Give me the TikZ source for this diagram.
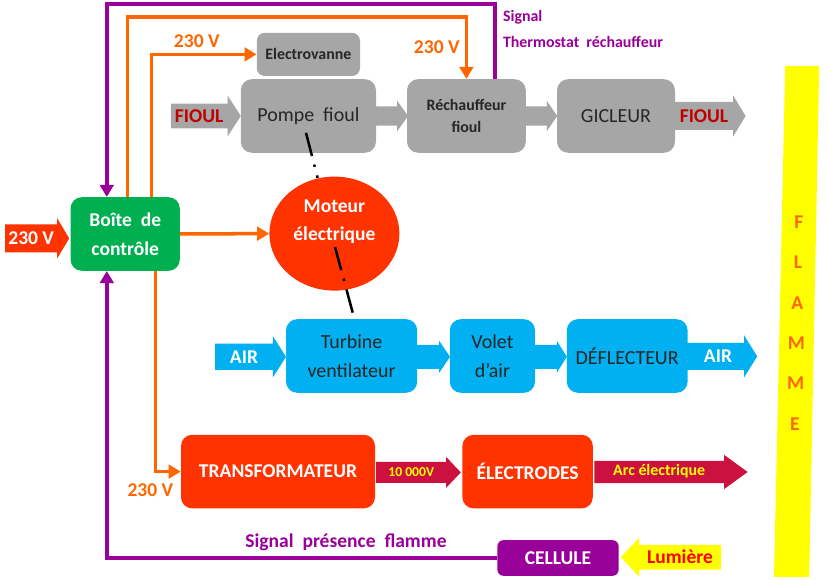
\documentclass[tikz,border=0pt]{standalone}
\usepackage{fontspec}
\setmainfont{Carlito}
\usetikzlibrary{arrows.meta,shapes.geometric}

\definecolor{boxgray}{HTML}{A6A6A6}
\definecolor{txtgray}{HTML}{262626}
\definecolor{fioulred}{HTML}{C00000}
\definecolor{wireorange}{HTML}{FF6600}
\definecolor{sigpurple}{HTML}{990099}
\definecolor{ctrlgreen}{HTML}{00B050}
\definecolor{hotred}{HTML}{FF3300}
\definecolor{aircyan}{HTML}{00B0F0}
\definecolor{hvred}{HTML}{CC1040}
\definecolor{flameyellow}{HTML}{FFFF00}
\definecolor{flameorange}{HTML}{FF6600}

\newcommand{\txtbig}{\fontsize{14.2}{20.5}\selectfont}
\newcommand{\txtbold}{\fontsize{13.9}{20.3}\selectfont\bfseries}
\newcommand{\txtsmall}{\fontsize{11.3}{15.4}\selectfont\bfseries}
\newcommand{\txttiny}{\fontsize{9.7}{12}\selectfont\bfseries}

% fat arrow: colour, tail x, head base x, tip x, y, shaft half width, head half width
\newcommand{\fatarrow}[7]{%
  \fill[#1] (#2,#5-#6) -- (#3,#5-#6) -- (#3,#5-#7) -- (#4,#5) -- (#3,#5+#7) -- (#3,#5+#6) -- (#2,#5+#6) -- cycle;}

\tikzset{
  box/.style={rectangle, rounded corners=0.28cm, inner sep=0pt, align=center, minimum height=1.84cm},
  fuelbox/.style={box, fill=boxgray, text=txtgray, font=\txtbig},
  airbox/.style={box, fill=aircyan, text=txtgray, font=\txtbig},
  hotbox/.style={box, fill=hotred, text=white, font=\txtbold},
  wire/.style={draw=wireorange, line width=2.5pt, -{Triangle[length=0.3cm,width=0.34cm]}},
  sig/.style={draw=sigpurple, line width=2.8pt, -{Triangle[length=0.3cm,width=0.34cm]}},
  shaft/.style={line width=1.8pt, dash pattern=on 0.6cm off 0.22cm on 0.06cm off 0.22cm},
  onarrow/.style={inner sep=0pt, font=\txtbold}
}

\begin{document}
\begin{tikzpicture}
\useasboundingbox (0,0) rectangle (20.7,14.5);

% flamme
\fill[flameyellow] (19.63,12.85) -- (20.48,12.85) -- (20.23,0.075) -- (19.35,0.075) -- cycle;
\foreach \l/\y [count=\i] in {F/8.95,L/7.95,A/6.93,M/5.92,M/4.92,E/3.90}
  \node[text=flameorange, font=\txtbold] (flame\i) at ({19.79+0.0204*\y},\y) {\l};

% circuit fioul
\node[fuelbox, minimum width=2.58cm, minimum height=1.08cm, rounded corners=0.2cm, font=\txtsmall] (elv) at (7.71,13.14) {Electrovanne};
\node[fuelbox, minimum width=3.38cm] (pompe) at (7.71,11.60) {Pompe~~fioul};
\node[fuelbox, minimum width=2.97cm, font=\txtsmall] (rech) at (11.66,11.60) {Réchauffeur\\fioul};
\node[fuelbox, minimum width=2.95cm] (gicl) at (15.40,11.60) {GICLEUR};
\fatarrow{boxgray}{4.27}{5.69}{6.02}{11.60}{0.31}{0.51}
\fatarrow{boxgray}{9.40}{9.93}{10.20}{11.60}{0.24}{0.38}
\fatarrow{boxgray}{13.14}{13.67}{13.93}{11.60}{0.24}{0.38}
\fatarrow{boxgray}{16.88}{18.33}{18.64}{11.60}{0.35}{0.51}
\node[onarrow, text=fioulred] (fioulin) at (4.98,11.60) {FIOUL};
\node[onarrow, text=fioulred] (fioulout) at (17.60,11.60) {FIOUL};

% boite de controle
\node[box, fill=ctrlgreen, text=white, font=\txtbold, minimum width=2.73cm] (boite) at (3.13,8.65) {Boîte~~de\\contrôle};
\fatarrow{hotred}{0.13}{1.43}{1.73}{8.54}{0.35}{0.50}
\node[onarrow, text=white] (vin) at (0.78,8.54) {230 V};

% arbre moteur
\coordinate (sh1) at (7.65,11.18);
\coordinate (sh2) at (7.94,10.05);
\coordinate (sh3) at (8.375,8.325);
\coordinate (sh4) at (8.82,6.675);
\draw[shaft] (sh1) -- (sh2);
\node[ellipse, fill=hotred, minimum width=3.25cm, minimum height=2.85cm, inner sep=0pt] (moteur) at (8.36,8.66) {};
\node[text=white, font=\txtbold, align=center] (moteurtxt) at ([yshift=0.3cm]moteur.center) {Moteur\\électrique};
\draw[shaft] (sh3) -- (sh4);

% circuit air
\node[airbox, minimum width=3.28cm] (turb) at (8.79,5.60) {Turbine\\ventilateur};
\node[airbox, minimum width=2.13cm] (volet) at (12.31,5.60) {Volet\\d’air};
\node[airbox, minimum width=3.02cm] (defl) at (15.68,5.60) {DÉFLECTEUR};
\fatarrow{aircyan}{5.38}{6.82}{7.15}{5.58}{0.33}{0.52}
\fatarrow{aircyan}{10.43}{10.98}{11.25}{5.58}{0.30}{0.40}
\fatarrow{aircyan}{13.38}{13.92}{14.17}{5.58}{0.30}{0.40}
\fatarrow{aircyan}{17.18}{18.60}{18.93}{5.59}{0.34}{0.53}
\node[onarrow, text=white] (airin) at (6.10,5.58) {AIR};
\node[onarrow, text=white] (airout) at (17.95,5.59) {AIR};

% allumage
\node[hotbox, minimum width=4.85cm] (transfo) at (6.95,2.71) {TRANSFORMATEUR};
\node[hotbox, minimum width=3.26cm] (electr) at (13.19,2.71) {ÉLECTRODES};
\fatarrow{hvred}{9.40}{11.15}{11.52}{2.69}{0.26}{0.39}
\fatarrow{hvred}{14.86}{18.10}{18.69}{2.70}{0.28}{0.43}
\node[onarrow, text=flameyellow, font=\txttiny] (hv) at (10.28,2.69) {10 000V};
\node[onarrow, text=flameyellow, font=\txtsmall] (arc) at (16.48,2.72) {Arc électrique};

% cellule
\node[box, fill=sigpurple, text=white, font=\txtbold, minimum width=3.03cm, minimum height=0.89cm, rounded corners=0.15cm] (cell) at (13.95,0.55) {CELLULE};
\fatarrow{flameyellow}{18.03}{15.98}{15.52}{0.57}{0.31}{0.49}
\node[onarrow, text=red] (lum) at (17.00,0.57) {Lumière};

% fils et signaux
\draw[wire] ([xshift=0.66cm]boite.north) |- (elv.west);
\draw[wire] ([xshift=0.06cm]boite.north) |- (11.66,14.07) -- (rech.north);
\draw[wire] (boite.east) -- (moteur.west);
\draw[wire] ([xshift=0.76cm]boite.south) |- (transfo.west);
\draw[sig] ([xshift=0.72cm]rech.north) |- (2.67,14.40) -- ([xshift=-0.46cm]boite.north);
\draw[sig] (cell.west) -| ([xshift=-0.46cm]boite.south);

\node[text=wireorange, font=\txtbold] (v1) at (4.92,13.46) {230 V};
\node[text=wireorange, font=\txtbold] (v2) at (10.92,13.33) {230 V};
\node[text=wireorange, font=\txtbold] (v3) at (3.76,2.25) {230 V};
\node[anchor=base west, inner sep=0pt, text=sigpurple, font=\txtsmall] (sig1) at (12.57,13.95) {Signal};
\node[anchor=base west, inner sep=0pt, text=sigpurple, font=\txtsmall] (sig2) at (12.57,13.31) {Thermostat~~réchauffeur};
\node[text=sigpurple, font=\txtbold] (sig3) at (8.65,0.93) {Signal~~présence~~flamme};
\end{tikzpicture}
\end{document}
